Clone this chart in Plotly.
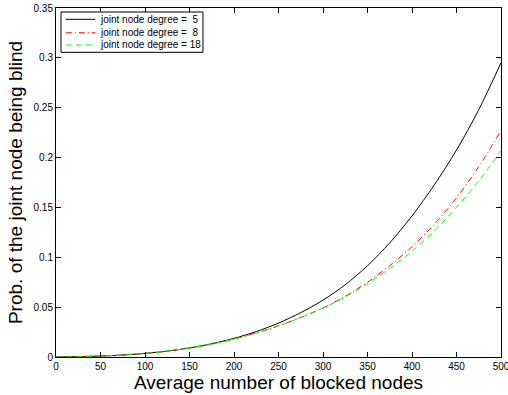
import plotly.graph_objects as go

x_vals = [0, 25, 50, 75, 100, 125, 150, 175, 200, 225, 250, 275, 300, 325, 350, 375, 400, 425, 450, 475, 500]
deg5 = [0.0, 0.0004, 0.0010, 0.0020, 0.0036, 0.0059, 0.0091, 0.0133, 0.0187, 0.0255, 0.0340, 0.0445, 0.0570, 0.0725, 0.0915, 0.1145, 0.1415, 0.1725, 0.2075, 0.2480, 0.2950]
deg8 = [0.0, 0.0004, 0.0010, 0.0020, 0.0036, 0.0059, 0.0090, 0.0130, 0.0180, 0.0241, 0.0312, 0.0397, 0.0491, 0.0609, 0.0750, 0.0916, 0.1105, 0.1330, 0.1595, 0.1908, 0.2270]
deg18 = [0.0, 0.0004, 0.0010, 0.0020, 0.0036, 0.0059, 0.0090, 0.0130, 0.0180, 0.0241, 0.0311, 0.0396, 0.0489, 0.0603, 0.0735, 0.0889, 0.1061, 0.1264, 0.1499, 0.1765, 0.2070]
names = ["joint node degree =\u00a0\u00a05", "joint node degree =\u00a0\u00a08", "joint node degree = 18"]

x_ticks = [0, 50, 100, 150, 200, 250, 300, 350, 400, 450, 500]
y_ticks = [0, 0.05, 0.1, 0.15, 0.2, 0.25, 0.3, 0.35]
y_tick_text = ["0", "0.05", "0.1", "0.15", "0.2", "0.25", "0.3", "0.35"]

FONT = "Liberation Sans, Arial"
styles = [dict(color="black", dash="solid"),
          dict(color="#ff0000", dash="6px,3px,1px,3px"),
          dict(color="#00ff00", dash="6px,4px")]
series = [deg5, deg8, deg18]

fig = go.Figure()
for name, ys, st in zip(names, series, styles):
    fig.add_trace(go.Scatter(x=x_vals, y=ys, mode="lines", name=name, hoverinfo="skip",
                             line=dict(color=st["color"], width=1, dash=st["dash"],
                                       shape="spline", smoothing=0.8)))

axis_common = dict(showline=True, linecolor="black", linewidth=1, mirror="ticks",
                   ticks="inside", ticklen=5, tickcolor="black", tickwidth=1,
                   showgrid=False, zeroline=False, ticklabeloverflow="allow",
                   automargin=False,
                   tickfont=dict(family=FONT, size=10, color="black"))

fig.update_xaxes(range=[0, 500], tickvals=x_ticks,
                 title=dict(text="Average number of blocked nodes", standoff=2,
                            font=dict(family=FONT, size=19, color="black")),
                 **axis_common)
fig.update_yaxes(range=[0, 0.35], tickvals=y_ticks, ticktext=y_tick_text,
                 title=dict(text="Prob. of the joint node being blind", standoff=5,
                            font=dict(family=FONT, size=19, color="black")),
                 **axis_common)

# legend box drawn manually (compact MATLAB-style rows)
box = dict(x0=0.0112, x1=0.3303, y0=0.873, y1=0.9885)
shapes = [dict(type="rect", xref="paper", yref="paper", **box,
               line=dict(color="black", width=1), fillcolor="white", layer="above")]
annotations = []
row_y = [0.9676, 0.929, 0.894]
for yy, name, st in zip(row_y, names, styles):
    shapes.append(dict(type="line", xref="paper", yref="paper", x0=0.022, x1=0.088, y0=yy, y1=yy,
                       line=dict(color=st["color"], width=1, dash=st["dash"]), layer="above"))
    annotations.append(dict(xref="paper", yref="paper", x=0.0955, y=yy, xanchor="left", yanchor="middle",
                            text=name, showarrow=False,
                            font=dict(family=FONT, size=10, color="black")))

fig.update_layout(
    width=508, height=395,
    margin=dict(l=56, r=7, t=8, b=38),
    paper_bgcolor="white", plot_bgcolor="white",
    showlegend=False,
    shapes=shapes, annotations=annotations,
)

fig.write_html("out.html", config={"displayModeBar": False},
               post_script="document.body.style.margin='0';document.body.style.overflow='hidden';")
